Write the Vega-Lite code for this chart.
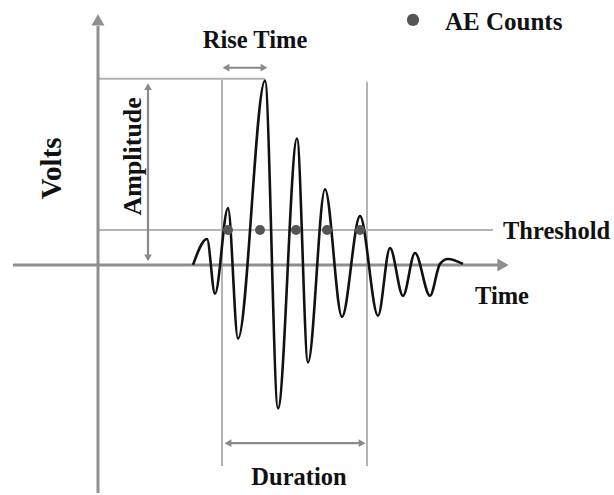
{
  "$schema": "https://vega.github.io/schema/vega-lite/v6.json",
  "width": 614,
  "height": 495,
  "padding": 0,
  "autosize": {"type": "fit", "contains": "padding"},
  "background": "white",
  "config": {"view": {"stroke": null}},
  "datasets": {
    "axes": [
      {"t": -85, "t2": 405, "v": 0, "v2": 0},
      {"t": 0, "t2": 0, "v": -229, "v2": 240}
    ],
    "guides": [
      {"t": 0, "t2": 167, "v": 187, "v2": 187},
      {"t": 0, "t2": 395, "v": 35, "v2": 35},
      {"t": 124, "t2": 124, "v": 186, "v2": -202},
      {"t": 269, "t2": 269, "v": 184, "v2": -202}
    ],
    "shafts": [
      {"t": 50, "t2": 50, "v": 180, "v2": 6},
      {"t": 127, "t2": 167, "v": 198, "v2": 198},
      {"t": 129, "t2": 265, "v": -179, "v2": -179}
    ],
    "bigheads": [
      {"t": 0, "v": 246, "dir": "up"},
      {"t": 405, "v": 0, "dir": "right"}
    ],
    "smallheads": [
      {"t": 50, "v": 179, "dir": "up"},
      {"t": 50, "v": 7, "dir": "down"},
      {"t": 128, "v": 198, "dir": "left"},
      {"t": 166, "v": 198, "dir": "right"},
      {"t": 130, "v": -179, "dir": "left"},
      {"t": 264, "v": -179, "dir": "right"}
    ],
    "wave": [
      {"t": 95, "v": 0},
      {"t": 109, "v": 26},
      {"t": 117, "v": -29},
      {"t": 130, "v": 57},
      {"t": 140, "v": -74},
      {"t": 167, "v": 185},
      {"t": 180, "v": -144},
      {"t": 199, "v": 127},
      {"t": 210, "v": -98},
      {"t": 227, "v": 76},
      {"t": 244, "v": -52},
      {"t": 262, "v": 49},
      {"t": 280, "v": -51},
      {"t": 292, "v": 17},
      {"t": 305, "v": -31},
      {"t": 317, "v": 12},
      {"t": 332, "v": -31},
      {"t": 342, "v": 1},
      {"t": 350, "v": 6},
      {"t": 365, "v": 1}
    ],
    "counts": [
      {"t": 130, "v": 35},
      {"t": 162, "v": 35},
      {"t": 198, "v": 35},
      {"t": 229, "v": 35},
      {"t": 262, "v": 35}
    ],
    "legend": [{"t": 315, "v": 246, "label": "AE Counts"}]
  },
  "encoding": {
    "x": {"field": "t", "type": "quantitative", "scale": {"domain": [-98, 516], "nice": false, "zero": false}, "axis": null},
    "y": {"field": "v", "type": "quantitative", "scale": {"domain": [-229, 266], "nice": false, "zero": false}, "axis": null}
  },
  "layer": [
    {
      "data": {"name": "guides"},
      "mark": {"type": "rule", "color": "#b4b4b4", "strokeWidth": 2},
      "encoding": {"x2": {"field": "t2"}, "y2": {"field": "v2"}}
    },
    {
      "data": {"name": "axes"},
      "mark": {"type": "rule", "color": "#8f8f8f", "strokeWidth": 3},
      "encoding": {"x2": {"field": "t2"}, "y2": {"field": "v2"}}
    },
    {
      "data": {"name": "shafts"},
      "mark": {"type": "rule", "color": "#8a8a8a", "strokeWidth": 2.2},
      "encoding": {"x2": {"field": "t2"}, "y2": {"field": "v2"}}
    },
    {
      "data": {"name": "bigheads"},
      "mark": {"type": "point", "filled": true, "color": "#8f8f8f", "opacity": 1, "size": 170},
      "encoding": {"shape": {"field": "dir", "type": "nominal", "scale": {"domain": ["up", "down", "left", "right"], "range": ["triangle-up", "triangle-down", "triangle-left", "triangle-right"]}, "legend": null}}
    },
    {
      "data": {"name": "smallheads"},
      "mark": {"type": "point", "filled": true, "color": "#8a8a8a", "opacity": 1, "size": 60},
      "encoding": {"shape": {"field": "dir", "type": "nominal", "scale": {"domain": ["up", "down", "left", "right"], "range": ["triangle-up", "triangle-down", "triangle-left", "triangle-right"]}, "legend": null}}
    },
    {
      "data": {"name": "wave"},
      "mark": {"type": "line", "color": "#111111", "strokeWidth": 2.6, "interpolate": "monotone"},
      "encoding": {"order": {"field": "t", "type": "quantitative"}}
    },
    {
      "data": {"name": "counts"},
      "mark": {"type": "circle", "color": "#555555", "opacity": 1, "size": 100}
    },
    {
      "data": {"name": "legend"},
      "mark": {"type": "circle", "color": "#555555", "opacity": 1, "size": 150}
    },
    {
      "data": {"name": "legend"},
      "mark": {"type": "text", "align": "left", "baseline": "middle", "dx": 32, "dy": 2, "font": "Liberation Serif", "fontWeight": "bold", "fontSize": 25, "color": "#111111"},
      "encoding": {"text": {"field": "label"}}
    },
    {
      "data": {"values": [
        {"t": 157, "v": 225, "label": "Rise Time"},
        {"t": 201, "v": -214, "label": "Duration"}
      ]},
      "mark": {"type": "text", "align": "center", "baseline": "middle", "font": "Liberation Serif", "fontWeight": "bold", "fontSize": 24.5, "color": "#111111"},
      "encoding": {"text": {"field": "label"}}
    },
    {
      "data": {"values": [
        {"t": 405, "v": 33, "label": "Threshold"},
        {"t": 377, "v": -32, "label": "Time"}
      ]},
      "mark": {"type": "text", "align": "left", "baseline": "middle", "font": "Liberation Serif", "fontWeight": "bold", "fontSize": 24.5, "color": "#111111"},
      "encoding": {"text": {"field": "label"}}
    },
    {
      "data": {"values": [{"t": 35, "v": 109, "label": "Amplitude"}]},
      "mark": {"type": "text", "align": "center", "baseline": "middle", "angle": 270, "font": "Liberation Serif", "fontWeight": "bold", "fontSize": 26, "color": "#111111"},
      "encoding": {"text": {"field": "label"}}
    },
    {
      "data": {"values": [{"t": -46, "v": 97, "label": "Volts"}]},
      "mark": {"type": "text", "align": "center", "baseline": "middle", "angle": 270, "font": "Liberation Serif", "fontWeight": "bold", "fontSize": 29, "color": "#111111"},
      "encoding": {"text": {"field": "label"}}
    }
  ]
}
